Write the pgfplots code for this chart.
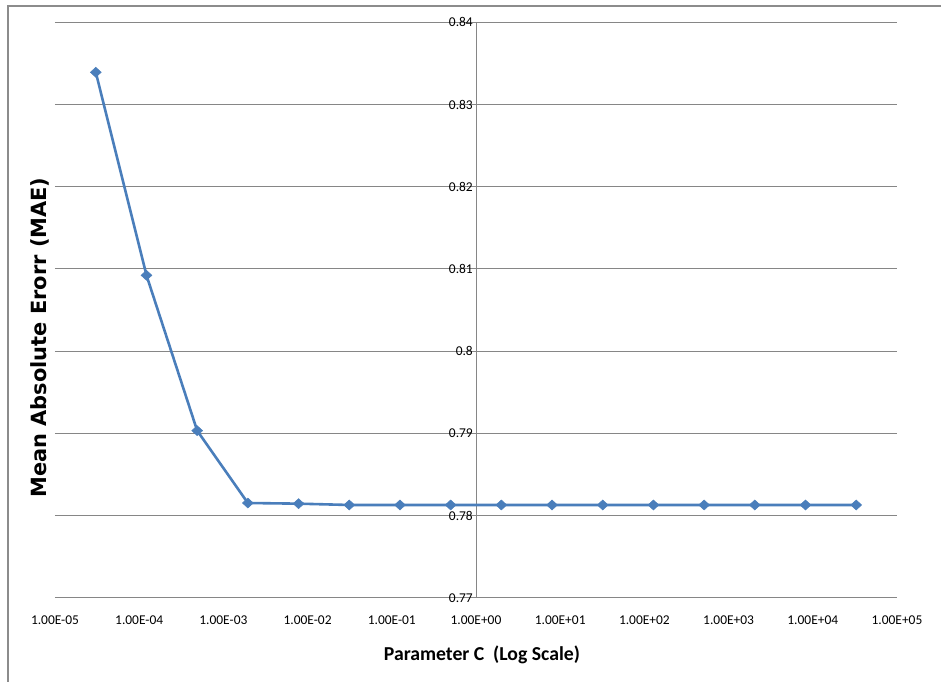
\documentclass[border=0pt]{standalone}
\usepackage{fontspec}
\setmainfont{Carlito}
\newfontfamily\dvs{DejaVu Sans}
\usepackage{pgfplots}
\pgfplotsset{compat=1.18}
\definecolor{gridgray}{HTML}{868686}
\definecolor{framegray}{HTML}{8C8C8C}
\definecolor{serblue}{HTML}{4A7EBB}
\begin{document}
\begin{tikzpicture}
\useasboundingbox (-55bp,-84.3bp) rectangle (886bp,597.7bp);
\draw[framegray, line width=1.2bp] (-47bp,-90bp) -- (-47bp,591.7bp) -- (890bp,591.7bp);
\begin{axis}[
  at={(0,0)}, anchor=south west,
  scale only axis,
  width=842bp, height=575.4bp,
  xmode=log,
  xmin=1e-5, xmax=1e5,
  ymin=0.77, ymax=0.84,
  axis line style={draw=none},
  major tick length=0pt,
  xminorticks=false, yminorticks=false,
  ymajorgrids,
  grid style={gridgray, line width=0.9bp},
  xtick={1e-5,1e-4,1e-3,1e-2,1e-1,1,1e1,1e2,1e3,1e4,1e5},
  xticklabels={1.00E-05,1.00E-04,1.00E-03,1.00E-02,1.00E-01,1.00E+00,1.00E+01,1.00E+02,1.00E+03,1.00E+04,1.00E+05},
  ytick={0.77,0.78,0.79,0.8,0.81,0.82,0.83,0.84},
  yticklabels={0.77,0.78,0.79,0.8,0.81,0.82,0.83,0.84},
  xticklabel style={font=\fontsize{13.5}{15}\selectfont, inner sep=0pt, anchor=north, yshift=-18bp},
  yticklabel style={font=\fontsize{13.5}{15}\selectfont, inner sep=0pt, anchor=east, xshift=418bp},
  xlabel={Parameter C\ \ (Log Scale)},
  ylabel={Mean Absolute Erorr (MAE)},
  every axis x label/.style={at={(axis description cs:0.5071,-0.1083)}, anchor=base, font=\fontsize{19.8}{23}\selectfont\bfseries},
  every axis y label/.style={at={(axis description cs:-0.0095,0.4522)}, anchor=base, rotate=90, font=\dvs\fontsize{21}{24}\selectfont\bfseries},
  clip=false,
]
\draw[gridgray, line width=0.9bp] (axis cs:1,0.77) -- (axis cs:1,0.84);
\addplot[serblue, line width=2.6bp, mark=diamond*, mark size=5bp, mark options={xscale=1.45, fill=serblue, draw=serblue, line width=0.5bp}]
coordinates {
(3.0517578125e-05,0.83392)
(1.220703125e-04,0.80922)
(4.8828125e-04,0.79032)
(1.953125e-03,0.78152)
(7.8125e-03,0.78144)
(0.03125,0.78128)
(0.125,0.78128)
(0.5,0.78128)
(2,0.78128)
(8,0.78128)
(32,0.78128)
(128,0.78128)
(512,0.78128)
(2048,0.78128)
(8192,0.78128)
(32768,0.78128)
};
\end{axis}
\end{tikzpicture}
\end{document}
